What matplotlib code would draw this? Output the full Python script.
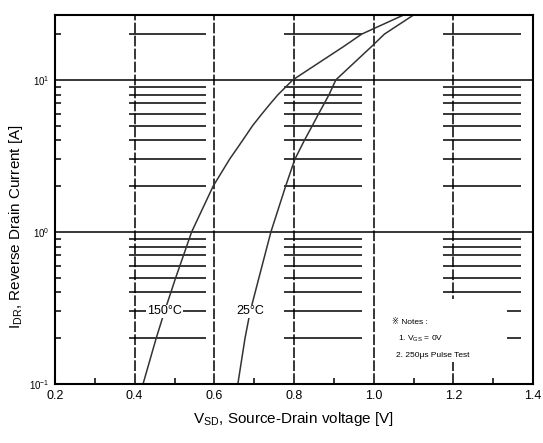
import numpy as np
import matplotlib.pyplot as plt
from matplotlib.patches import Rectangle

plt.rcParams['font.family'] = ['Liberation Sans', 'DejaVu Sans']
plt.rcParams['mathtext.fontset'] = 'custom'
plt.rcParams['mathtext.rm'] = 'Liberation Sans'
plt.rcParams['mathtext.it'] = 'Liberation Sans'

# values (current in A, voltage in V)
current = [0.1, 0.2, 0.3, 0.5, 1, 2, 3, 4, 5, 6, 7, 8, 10, 16.6, 20, 26.7]
vsd_150 = [0.421, 0.454, 0.475, 0.503, 0.543, 0.597, 0.638, 0.671, 0.696, 0.72, 0.741, 0.76, 0.797, 0.925, 0.97, 1.075]
vsd_25 = [0.659, 0.677, 0.69, 0.712, 0.742, 0.779, 0.802, 0.826, 0.846, 0.862, 0.876, 0.888, 0.905, 0.995, 1.027, 1.10]

x_ticks = [0.2, 0.4, 0.6, 0.8, 1.0, 1.2, 1.4]
x_minor = [0.3, 0.5, 0.7, 0.9, 1.1, 1.3]
dash_x = [0.4, 0.6, 0.8, 1.0, 1.2]
y_major = [0.1, 1, 10]
y_major_labels = ['10$^{-1}$', '10$^{0}$', '10$^{1}$']
y_minor = [0.2, 0.3, 0.4, 0.5, 0.6, 0.7, 0.8, 0.9, 2, 3, 4, 5, 6, 7, 8, 9, 20]
seg_cols = [(0.385, 0.578), (0.775, 0.97), (1.173, 1.37)]

fig = plt.figure(figsize=(5.43, 4.43), dpi=100)
ax = fig.add_axes([0.1013, 0.1332, 0.8803, 0.8329])
ax.set_yscale('log')
ax.set_xlim(0.2, 1.4)
ax.set_ylim(0.1, 26.7)

# grid look of the datasheet
for xv in dash_x:
    ax.axvline(xv, color='black', lw=1.1, dashes=(7, 1.5), zorder=1)
for yv in [1, 10]:
    ax.axhline(yv, color='black', lw=1.1, zorder=1)
for x0, x1 in seg_cols:
    ax.hlines(y_minor, x0, x1, color='black', lw=1.1, zorder=1)

ax.plot(vsd_150, current, color='#333333', lw=1.1, zorder=2)
ax.plot(vsd_25, current, color='#333333', lw=1.1, zorder=2)

ax.text(0.475, 0.3, '150°C', fontsize=9, ha='center', va='center', zorder=3,
        bbox=dict(facecolor='white', edgecolor='none', pad=0.5))
ax.text(0.69, 0.3, '25°C', fontsize=9, ha='center', va='center', zorder=3,
        bbox=dict(facecolor='white', edgecolor='none', pad=0.5))

# notes box
ax.add_patch(Rectangle((1.04, 0.14), 0.295, 0.22, facecolor='white', edgecolor='none', zorder=4))
ax.text(1.047, 0.255, '※ Notes :', fontsize=6, va='center', zorder=5)
ax.text(1.062, 0.198, '1. V$_{GS}$ = 0V', fontsize=6, va='center', zorder=5)
ax.text(1.057, 0.155, '2. 250μs Pulse Test', fontsize=6, va='center', zorder=5)

ax.set_xticks(x_ticks)
ax.set_xticklabels([f'{v:.1f}' for v in x_ticks], fontsize=9)
ax.set_xticks(x_minor, minor=True)
ax.set_yticks(y_major)
ax.set_yticklabels(y_major_labels, fontsize=7)
ax.set_yticks(y_minor, minor=True)
ax.yaxis.set_minor_formatter(plt.NullFormatter())
ax.tick_params(which='both', direction='in', width=1.1, color='black')
ax.tick_params(which='major', length=0, pad=4)
ax.tick_params(which='minor', length=4)

for s in ax.spines.values():
    s.set_linewidth(1.5)

ax.set_xlabel('V$_{SD}$, Source-Drain voltage [V]', fontsize=11, labelpad=6)
ax.set_ylabel('I$_{DR}$, Reverse Drain Current [A]', fontsize=11)
ax.yaxis.set_label_coords(-0.062, 0.428)

fig.savefig('out.png', dpi=100)
